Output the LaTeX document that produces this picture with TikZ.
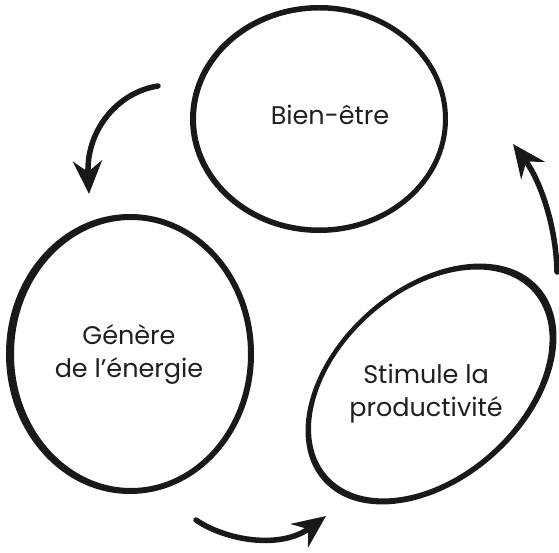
\documentclass[tikz,border=0pt]{standalone}
\usepackage{fontspec}
\setmainfont{Poppins}
\usetikzlibrary{arrows.meta}
\begin{document}
\begin{tikzpicture}[x=1pt,y=-1pt,
  label text/.style={font=\fontsize{25.5}{33}\selectfont, align=center, text=black!88, inner sep=0pt},
  ring/.style={fill=black!90, even odd rule},
  flow/.style={line width=5.5pt, line cap=round, draw=black!90,
    -{Stealth[length=33pt,width=29pt,inset=11pt]}}]
\useasboundingbox (0,0) rectangle (559,553);

% centres of the three hand-drawn rings
\coordinate (ringtop) at (319,119);
\coordinate (ringleft) at (130,354);
\coordinate (ringright) at (431,384);

% rings: band between two slightly offset ellipses gives an uneven pen stroke
\fill[ring] (ringtop) ellipse [x radius=129pt, y radius=114pt]
  ([shift={(0.5pt,0pt)}]ringtop) ellipse [x radius=123.5pt, y radius=108.5pt];
\fill[ring] (ringleft) ellipse [x radius=124pt, y radius=140pt]
  ([shift={(1pt,0pt)}]ringleft) ellipse [x radius=117pt, y radius=134pt];
\begin{scope}[shift={(ringright)}, rotate=42]
  \fill[ring] (0,0) ellipse [x radius=145pt, y radius=96pt]
    (-0.5pt,0.5pt) ellipse [x radius=138pt, y radius=91pt];
\end{scope}

% texts
\node[label text] (wellbeing) at (330,115) {Bien-être};
\node[label text] (energy) at (129,354) {Génère\\de l’énergie};
\node[label text] (productivity) at (426,394) {Stimule la\\productivité};

% end points of the curved arrows
\coordinate (a1s) at (158,86);
\coordinate (a1e) at (89,194);
\coordinate (a2s) at (196,520);
\coordinate (a2e) at (326,516);
\coordinate (a3s) at (557,272);
\coordinate (a3e) at (513,144);

\draw[flow] (a1s) .. controls (118,92) and (86,130) .. (a1e);
\draw[flow] (a2s) .. controls (225,540) and (280,550) .. (a2e);
\draw[flow] (a3s) .. controls (556,225) and (540,180) .. (a3e);
\end{tikzpicture}
\end{document}
